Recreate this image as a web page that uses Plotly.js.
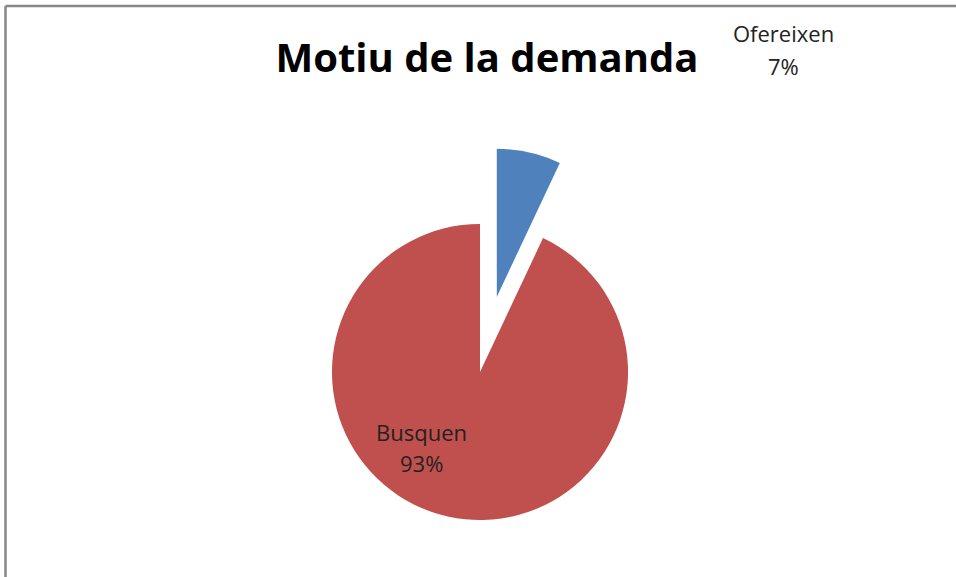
<!DOCTYPE html>
<html>
<head>
<meta charset="utf-8">
<script src="https://cdn.plot.ly/plotly-3.0.1.min.js"></script>
<style>
html,body{margin:0;padding:0;overflow:hidden;background:#fff;}
#chart{width:956px;height:744px;}
</style>
</head>
<body>
<div id="chart"></div>
<script>
var categories = ["Ofereixen", "Busquen"];
var values = [7, 93];
var colors = ["#4F81BD", "#C0504D"];
var pulls = [0.52, 0];
var chartTitle = "Motiu de la demanda";

var W = 956, H = 744;
var total = values.reduce(function(a,b){return a+b;}, 0);
var pct = values.map(function(v){ return Math.round(v/total*100) + "%"; });

// label anchor positions (pixels): [x, y of name line, y of percent line]
var labelPos = [[783, 33, 66], [421, 432, 463]];

var labelFont = {family: "Open Sans, Noto Sans, sans-serif", size: 22, color: "#222"};
var annotations = [];
categories.forEach(function(c, i){
  annotations.push({
    text: c, xref: "paper", yref: "paper",
    x: labelPos[i][0]/W, y: 1 - labelPos[i][1]/H,
    xanchor: "center", yanchor: "middle", showarrow: false, font: labelFont
  });
  annotations.push({
    text: pct[i], xref: "paper", yref: "paper",
    x: labelPos[i][0]/W, y: 1 - labelPos[i][2]/H,
    xanchor: "center", yanchor: "middle", showarrow: false, font: labelFont
  });
});

var data = [{
  type: "pie",
  labels: categories,
  values: values,
  sort: false,
  direction: "clockwise",
  rotation: 0,
  pull: pulls,
  marker: {colors: colors, line: {width: 0}},
  textinfo: "none",
  hoverinfo: "label+percent",
  showlegend: false,
  domain: {x: [(480-225)/W, (480+225)/W], y: [0, 1]}
}];

var layout = {
  width: W, height: H,
  margin: {l: 0, r: 0, t: 0, b: 0},
  paper_bgcolor: "#fff",
  showlegend: false,
  title: {
    text: "<b>" + chartTitle + "</b>",
    xref: "paper", yref: "paper",
    x: 487/W, y: 1 - 58/H,
    xanchor: "center", yanchor: "middle",
    font: {family: "Open Sans, Noto Sans, sans-serif", size: 40, color: "#000"}
  },
  annotations: annotations,
  shapes: [
    {type: "line", xref: "paper", yref: "paper", x0: 5.5/W, x1: 5.5/W, y0: -0.1, y1: 1 - 6/H, line: {color: "#878787", width: 2.5}},
    {type: "line", xref: "paper", yref: "paper", x0: 5.5/W, x1: 1.1, y0: 1 - 6/H, y1: 1 - 6/H, line: {color: "#878787", width: 2.5}}
  ]
};

Plotly.newPlot("chart", data, layout, {displayModeBar: false, staticPlot: true});
</script>
</body>
</html>
